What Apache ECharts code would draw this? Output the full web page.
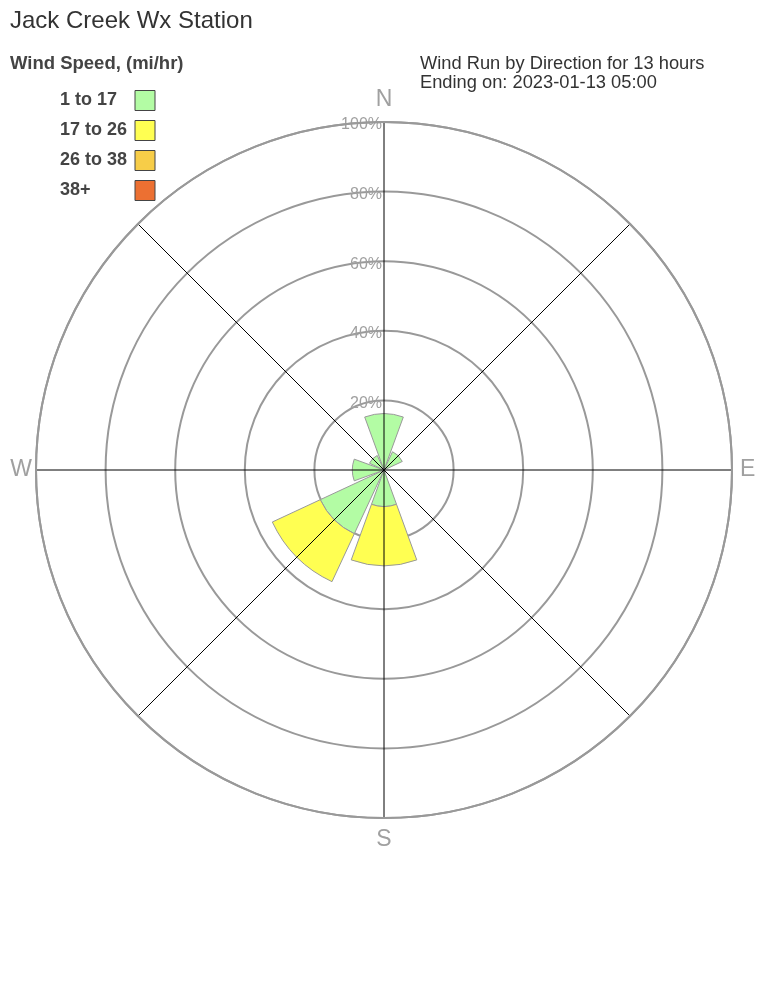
<!DOCTYPE html>
<html>
<head>
<meta charset="utf-8">
<script src="https://cdn.jsdelivr.net/npm/echarts@6/dist/echarts.min.js"></script>
<style>
html,body{margin:0;padding:0;background:#fff;}
#chart{width:768px;height:1008px;}
</style>
</head>
<body>
<div id="chart"></div>
<script>
const directions = ['N', 'NE', 'E', 'SE', 'S', 'SW', 'W', 'NW'];
const compassLabels = { 0: 'N', 90: 'E', 180: 'S', 270: 'W' };
const speedBins = ['1 to 17', '17 to 26', '26 to 38', '38+'];
const binColors = ['#b3fca4', '#ffff52', '#f7cd48', '#ec7032'];
const bin1 = [16.2, 5.8, 0, 0, 10.5, 20.2, 9.1, 4.6];
const bin2 = [0, 0, 0, 0, 17.0, 15.2, 0, 0];
const bin3 = [0, 0, 0, 0, 0, 0, 0, 0];
const bin4 = [0, 0, 0, 0, 0, 0, 0, 0];
const binValues = [bin1, bin2, bin3, bin4];
const ringMax = 100;
const ringStep = 20;

const FONT = '"Liberation Sans", Arial, sans-serif';
const chart = echarts.init(document.getElementById('chart'));

const series = speedBins.map((name, i) => ({
  name: name,
  type: 'bar',
  coordinateSystem: 'polar',
  polarIndex: 0,
  stack: 'wind',
  barCategoryGap: '11%',
  data: binValues[i].map(v => (v === 0 ? '-' : v)),
  itemStyle: { color: binColors[i], borderColor: '#999', borderWidth: 1 },
  emphasis: { disabled: true },
  z: 2
}));

const compassRich = {
  N: { padding: [0, 0, 7, 0] },
  E: { padding: [0, 0, 0, 4] },
  S: { padding: [6, 0, 0, 0] },
  W: { padding: [0, 0, 0, 0] }
};

chart.setOption({
  animation: false,
  backgroundColor: '#fff',
  textStyle: { fontFamily: FONT },
  title: [
    { text: 'Jack Creek Wx Station', left: 10, top: 9, padding: 0,
      textStyle: { fontSize: 24, fontWeight: 'normal', color: '#333', fontFamily: FONT } },
    { text: 'Wind Speed, (mi/hr)', left: 10, top: 54, padding: 0,
      textStyle: { fontSize: 18.5, fontWeight: 'bold', color: '#444', fontFamily: FONT } },
    { text: 'Wind Run by Direction for 13 hours\nEnding on: 2023-01-13 05:00', left: 420, top: 54, padding: 0,
      textStyle: { fontSize: 18.3, fontWeight: 'normal', color: '#333', lineHeight: 19, fontFamily: FONT } }
  ],
  legend: {
    orient: 'vertical', left: 60, top: 90, padding: 0,
    align: 'right', icon: 'rect',
    itemWidth: 20, itemHeight: 20, itemGap: 9,
    data: speedBins,
    selectedMode: false,
    itemStyle: { borderColor: '#444', borderWidth: 1 },
    formatter: name => '{t|' + name + '}',
    textStyle: {
      fontFamily: FONT,
      rich: { t: { width: 70, height: 20, lineHeight: 20, align: 'left', fontSize: 18, fontWeight: 'bold', color: '#444', fontFamily: FONT } }
    }
  },
  polar: [
    { center: [384, 470], radius: 348 },
    { center: [384, 470], radius: 348 }
  ],
  angleAxis: [
    { polarIndex: 0, type: 'category', data: directions, startAngle: 112.5, clockwise: true, show: false },
    { polarIndex: 1, type: 'value', min: 0, max: 360, interval: 45, startAngle: 90, clockwise: true, z: 5,
      axisLine: { show: true, lineStyle: { color: '#999', width: 2 } },
      axisTick: { show: false },
      splitLine: { show: true, lineStyle: { color: '#000', width: 1 } },
      axisLabel: {
        show: true, margin: 4, fontSize: 23, color: '#a0a0a0', fontFamily: FONT,
        rich: compassRich,
        formatter: v => (compassLabels[v] ? '{' + compassLabels[v] + '|' + compassLabels[v] + '}' : '')
      }
    }
  ],
  radiusAxis: [
    { polarIndex: 0, type: 'value', min: 0, max: ringMax, show: false },
    { polarIndex: 1, type: 'value', min: 0, max: ringMax, interval: ringStep, z: 1,
      axisLine: { show: false }, axisTick: { show: false },
      splitLine: { show: true, lineStyle: { color: '#999', width: 2 } },
      axisLabel: {
        show: true, margin: 2, fontSize: 16, color: '#a0a0a0', fontFamily: FONT,
        rich: { p: { padding: [6, 0, 0, 0], fontSize: 16, color: '#a0a0a0', fontFamily: FONT } },
        formatter: v => (v === 0 ? '' : '{p|' + v + '%}')
      }
    }
  ],
  series: series
});
</script>
</body>
</html>
